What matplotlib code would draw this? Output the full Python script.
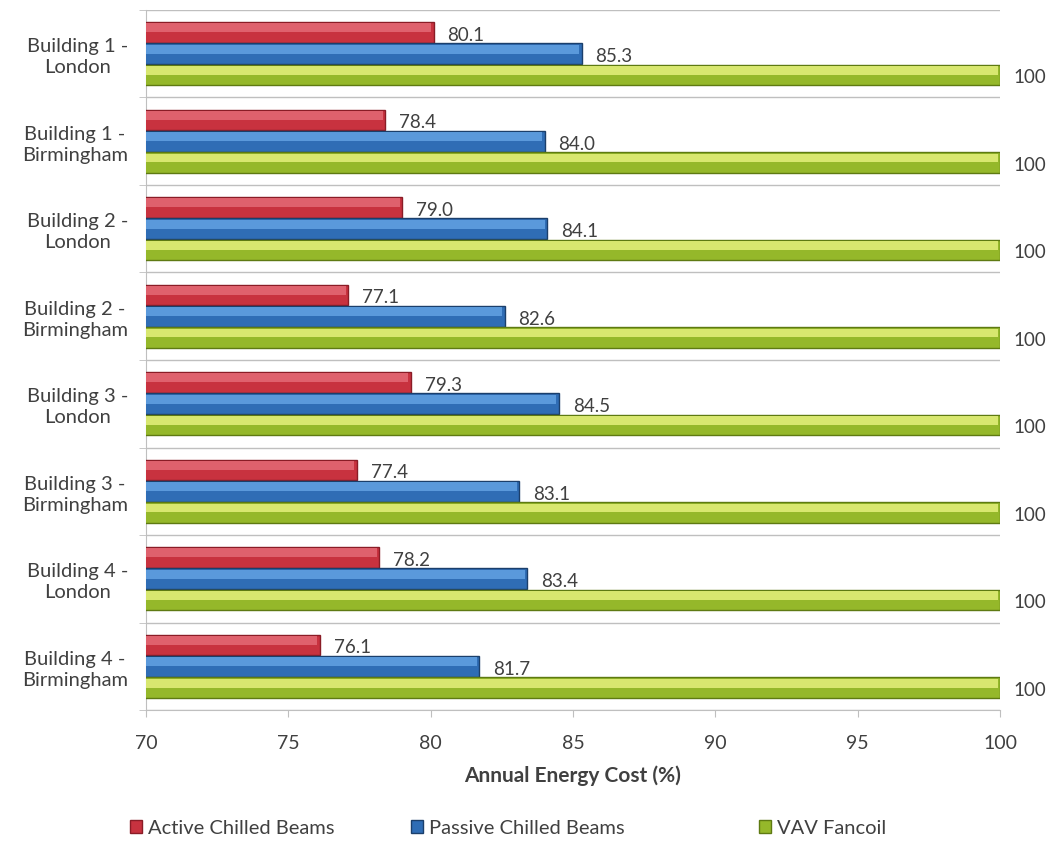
import numpy as np
import matplotlib
matplotlib.use('Agg')
import matplotlib.pyplot as plt

plt.rcParams['font.family'] = ['Lato', 'DejaVu Sans']

#============================================
# data
categories = ['Building 1 -\nLondon', 'Building 1 -\nBirmingham',
              'Building 2 -\nLondon', 'Building 2 -\nBirmingham',
              'Building 3 -\nLondon', 'Building 3 -\nBirmingham',
              'Building 4 -\nLondon', 'Building 4 -\nBirmingham']
active = [80.1, 78.4, 79.0, 77.1, 79.3, 77.4, 78.2, 76.1]
passive = [85.3, 84.0, 84.1, 82.6, 84.5, 83.1, 83.4, 81.7]
vav = [100, 100, 100, 100, 100, 100, 100, 100]
series_names = ['Active Chilled Beams', 'Passive Chilled Beams', 'VAV Fancoil']
xticks = [70, 75, 80, 85, 90, 95, 100]

txt_col = '#404040'
grid_col = '#BFBFBF'
# (main colour, highlight colour, edge colour)
styles = [('#C8323F', '#E46A76', '#8A1C26'),
          ('#2F6DB5', '#62A2E2', '#1B3F6B'),
          ('#95B82A', '#E4F07C', '#5E7A12')]

#============================================
fig = plt.figure(figsize=(10.54, 8.68), dpi=100)
ax = fig.add_axes([0.1385, 0.182, 0.8103, 0.8065])

y = np.arange(len(categories))
h = 0.235
offsets = [-0.245, 0.0, 0.245]
handles = []
for vals, off, (main, hi, edge) in zip([active, passive, vav], offsets, styles):
    b = ax.barh(y + off, vals, height=h, color=main, edgecolor=edge, linewidth=1.0, zorder=3)
    # top highlight for the 3D look
    ax.barh(y + off - h * 0.22, np.array(vals) - 0.08, height=h * 0.42, color=hi,
            linewidth=0, alpha=0.85, zorder=4)
    handles.append(b)
    for yy, v in zip(y + off, vals):
        lab = '100' if v == 100 else f'{v:.1f}'
        ax.annotate(lab, (v, yy), xytext=(10, -2), textcoords='offset points',
                    va='center', ha='left', fontsize=13.5, color=txt_col, zorder=5)

ax.set_xlim(70, 100)
ax.set_ylim(len(categories) - 0.5, -0.5)
ax.set_xticks(xticks)
ax.set_xticklabels([str(t) for t in xticks], fontsize=14, color=txt_col)
ax.set_yticks(y)
ax.set_yticklabels(categories, fontsize=14.5, color=txt_col, multialignment='center',
                   linespacing=1.3)
ax.set_yticks(np.arange(len(categories) + 1) - 0.5, minor=True)
ax.tick_params(axis='y', which='major', length=0, pad=13)
ax.tick_params(axis='y', which='minor', length=5, color=grid_col)
ax.tick_params(axis='x', length=5, color=grid_col, pad=13)
ax.grid(axis='y', which='minor', color=grid_col, linewidth=1.0, zorder=0)

for s in ['top', 'right']:
    ax.spines[s].set_visible(False)
for s in ['left', 'bottom']:
    ax.spines[s].set_color(grid_col)

ax.set_xlabel('Annual Energy Cost (%)', fontsize=15, fontweight='bold',
              color=txt_col, labelpad=10)

# legend entries placed separately like the original
leg_x = [0.106, 0.373, 0.703]
for hdl, name, lx in zip(handles, series_names, leg_x):
    fig.legend([hdl], [name], loc='center left', bbox_to_anchor=(lx, 0.046),
               frameon=False, fontsize=14.5, handlelength=0.6, handleheight=0.6,
               handletextpad=0.3, labelcolor=txt_col)

fig.savefig('out.png', dpi=100, facecolor='white')
